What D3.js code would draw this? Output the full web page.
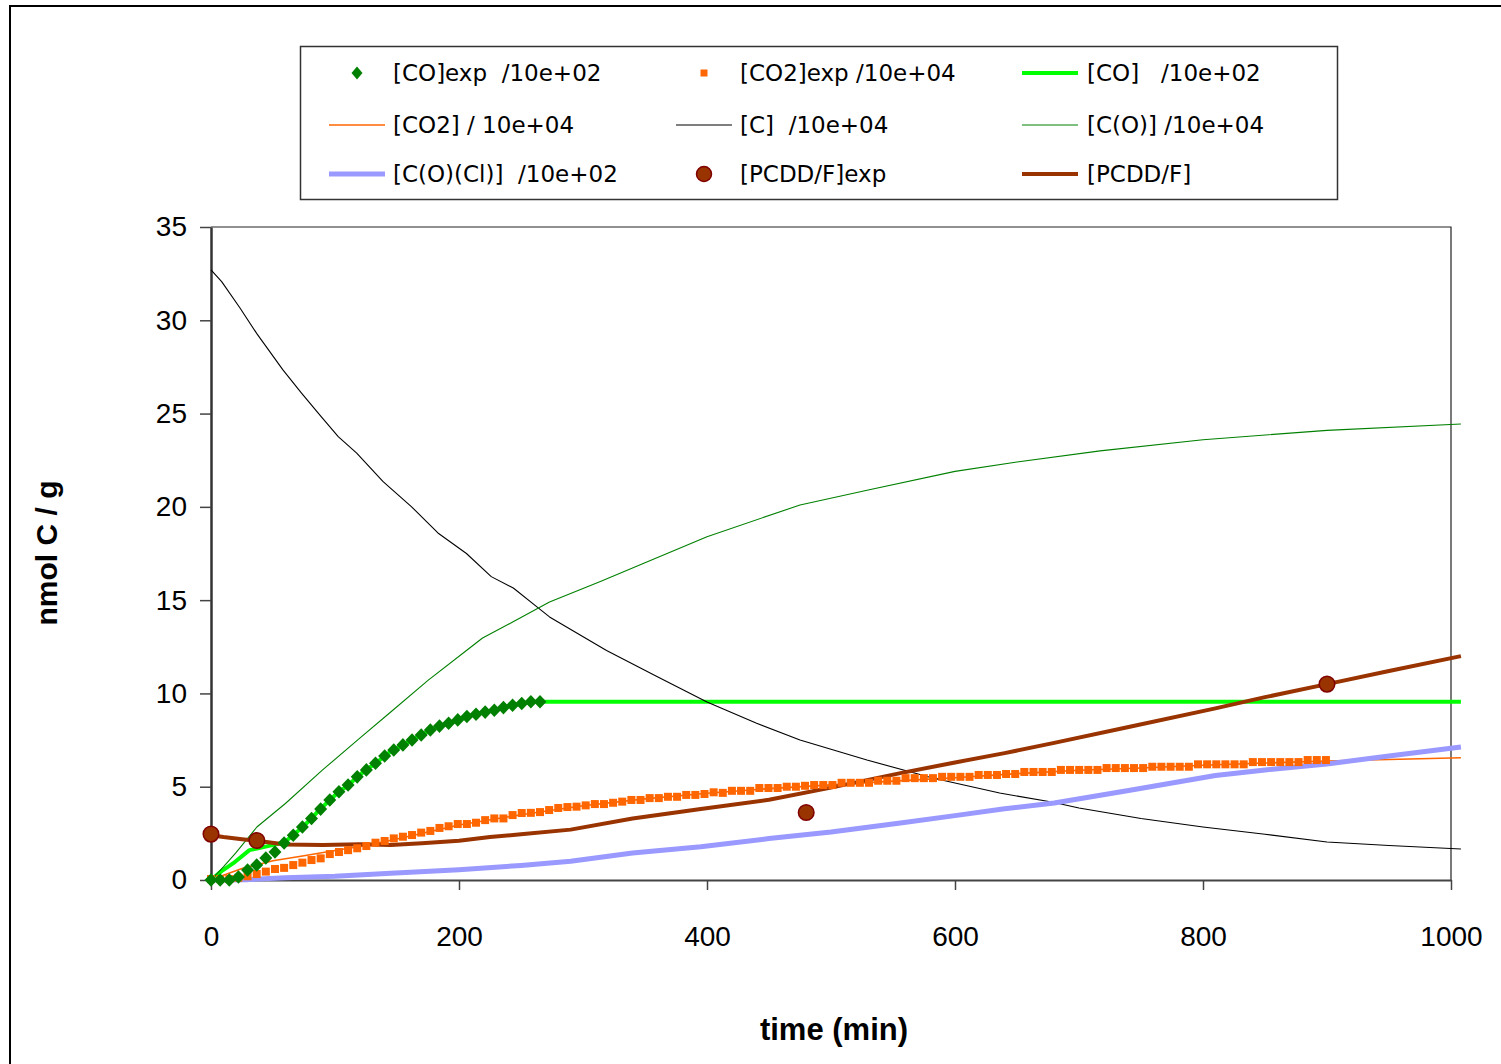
<!DOCTYPE html>
<html>
<head>
<meta charset="utf-8">
<script src="https://cdn.jsdelivr.net/npm/d3@7"></script>
<style>
  body { margin: 0; background: #fff; }
</style>
</head>
<body>
<div id="chart"></div>
<script>
// experimental samples are taken every ~7.37 min
let expStep = 7.37;

// [CO]exp /10e+02 (diamonds)
let coExp = [0, 0, 0, 0.16, 0.54, 0.8, 1.18, 1.5, 1.98, 2.4, 2.84, 3.3, 3.8, 4.29, 4.73, 5.09, 5.53, 5.9,
  6.26, 6.65, 6.97, 7.24, 7.5, 7.77, 8.04, 8.25, 8.4, 8.58, 8.76, 8.88, 9.0, 9.1, 9.24, 9.37, 9.46, 9.55, 9.55];

// [CO2]exp /10e+04 (squares)
let co2Exp = [0.05, 0.05, 0.05, 0.12, 0.2, 0.32, 0.45, 0.59, 0.65, 0.8, 0.93, 1.07, 1.16, 1.39, 1.5, 1.6, 1.7, 1.82,
  2.0, 2.09, 2.23, 2.32, 2.41, 2.54, 2.63, 2.79, 2.88, 3.0, 3.0, 3.07, 3.21, 3.3, 3.3, 3.48, 3.59, 3.6, 3.64,
  3.75, 3.86, 3.91, 3.93, 4.0, 4.07, 4.07, 4.14, 4.2, 4.29, 4.29, 4.39, 4.39, 4.46, 4.46, 4.56, 4.56, 4.61,
  4.7, 4.67, 4.78, 4.78, 4.78, 4.93, 4.93, 4.93, 5.0, 5.0, 5.05, 5.09, 5.09, 5.09, 5.21, 5.21, 5.21, 5.21,
  5.32, 5.32, 5.32, 5.46, 5.46, 5.46, 5.46, 5.53, 5.53, 5.53, 5.53, 5.63, 5.63, 5.63, 5.68, 5.68, 5.79, 5.79,
  5.79, 5.79, 5.9, 5.9, 5.9, 5.9, 5.9, 6.0, 6.0, 6.0, 6.0, 6.0, 6.07, 6.07, 6.07, 6.07, 6.07, 6.2, 6.2, 6.2,
  6.2, 6.2, 6.2, 6.32, 6.32, 6.32, 6.32, 6.32, 6.32, 6.43, 6.43, 6.43];

// [PCDD/F]exp (circles) as [time, value]
let pcddExp = [[0, 2.46], [37, 2.12], [480, 3.62], [900, 10.5]];

// model curves as [time, value]
let coModel = [[0, 0], [8, 0.45], [18, 0.9], [31, 1.6], [45, 1.8], [55, 1.95], [59, 2.0], [66, 2.4], [74, 2.84],
  [81, 3.3], [88, 3.8], [96, 4.29], [103, 4.73], [111, 5.09], [118, 5.53], [125, 5.9], [133, 6.26], [140, 6.65],
  [147, 6.97], [155, 7.24], [162, 7.5], [170, 7.77], [177, 8.04], [184, 8.25], [192, 8.4], [199, 8.58],
  [206, 8.76], [214, 8.88], [221, 9.0], [228, 9.1], [236, 9.24], [243, 9.37], [251, 9.46], [258, 9.55], [1008, 9.55]];

let co2Model = [[0, 0], [10, 0.25], [25, 0.62], [50, 1.03], [75, 1.3], [100, 1.58], [125, 1.85], [150, 2.2],
  [200, 2.95], [250, 3.5], [300, 3.98], [350, 4.35], [400, 4.65], [450, 4.9], [500, 5.1], [550, 5.3],
  [600, 5.48], [650, 5.7], [700, 5.88], [750, 6.0], [800, 6.15], [850, 6.27], [900, 6.38], [950, 6.46], [1008, 6.55]];

let cModel = [[0, 32.7], [8.6, 32.07], [23.4, 30.66], [36.8, 29.3], [58, 27.34], [73, 26.1], [88, 24.9],
  [102.6, 23.76], [117.5, 22.88], [138.8, 21.35], [161.8, 20.0], [183, 18.6], [206, 17.5], [226, 16.26],
  [243.8, 15.65], [262.6, 14.65], [273, 14.1], [319, 12.3], [360, 10.9], [400, 9.54], [440, 8.4], [475, 7.5],
  [529, 6.43], [582, 5.47], [636, 4.66], [678, 4.18], [700, 3.86], [750, 3.3], [800, 2.84], [850, 2.45],
  [900, 2.04], [950, 1.85], [1008, 1.66]];

let cOModel = [[0, 0], [10, 0.7], [20, 1.45], [37, 2.84], [60, 4.1], [90, 5.9], [120, 7.6], [144, 8.95],
  [175, 10.7], [206, 12.3], [219, 12.97], [244, 13.85], [273, 14.9], [314, 16.0], [350, 17.0], [400, 18.4],
  [475, 20.1], [530, 20.9], [600, 21.9], [650, 22.4], [717, 23.0], [800, 23.6], [900, 24.1], [1008, 24.44]];

let cOClModel = [[0, 0], [30, 0.02], [60, 0.12], [100, 0.2], [145, 0.36], [200, 0.55], [250, 0.78], [290, 1.0],
  [340, 1.45], [395, 1.78], [450, 2.22], [500, 2.57], [556, 3.05], [600, 3.45], [640, 3.82], [680, 4.13],
  [740, 4.8], [810, 5.6], [850, 5.9], [900, 6.22], [950, 6.65], [1008, 7.13]];

let pcddModel = [[0, 2.4], [10, 2.3], [25, 2.18], [40, 2.08], [60, 1.9], [90, 1.88], [120, 1.92], [145, 1.88],
  [170, 1.97], [200, 2.1], [225, 2.3], [250, 2.45], [290, 2.7], [340, 3.3], [395, 3.8], [450, 4.3], [500, 4.95],
  [556, 5.73], [600, 6.3], [640, 6.8], [680, 7.35], [740, 8.2], [810, 9.2], [850, 9.8], [900, 10.5],
  [950, 11.2], [1008, 12.0]];

let xTicks = [0, 200, 400, 600, 800, 1000];
let yTicks = [0, 5, 10, 15, 20, 25, 30, 35];

let legendLabels = ['[CO]exp  /10e+02', '[CO2]exp /10e+04', '[CO]   /10e+02',
  '[CO2] / 10e+04', '[C]  /10e+04', '[C(O)] /10e+04',
  '[C(O)(Cl)]  /10e+02', '[PCDD/F]exp', '[PCDD/F]'];

let width = 1501, height = 1064;
let plot = { left: 211, right: 1451, top: 227, bottom: 880 };

let svg = d3.select('#chart').append('svg')
  .attr('width', width)
  .attr('height', height)
  .style('display', 'block');

// outer frame (runs off the bottom/right of the picture)
svg.append('rect')
  .attr('x', 10).attr('y', 6)
  .attr('width', 1700).attr('height', 1200)
  .attr('fill', 'none').attr('stroke', '#000').attr('stroke-width', 2);

let x = d3.scaleLinear().domain([0, 1000]).range([plot.left, plot.right]);
let y = d3.scaleLinear().domain([0, 35]).range([plot.bottom, plot.top]);

// plot border top + right
svg.append('path')
  .attr('d', `M${plot.left},${plot.top}H${plot.right}V${plot.bottom}`)
  .attr('fill', 'none').attr('stroke', '#222').attr('stroke-width', 1.2);

let tickFont = '"Liberation Sans", Arial, sans-serif';

let yAxis = svg.append('g')
  .attr('transform', `translate(${plot.left},0)`)
  .call(d3.axisLeft(y).tickValues(yTicks).tickFormat(d3.format('d')).tickSize(11).tickSizeOuter(0).tickPadding(13));
yAxis.select('.domain').attr('stroke', '#333').attr('stroke-width', 2.5);
yAxis.selectAll('.tick line').attr('stroke', '#444').attr('stroke-width', 1.5);
yAxis.selectAll('text').style('font-family', tickFont).style('font-size', '28px').attr('fill', '#000');

let xAxis = svg.append('g')
  .attr('transform', `translate(0,${plot.bottom})`)
  .call(d3.axisBottom(x).tickValues(xTicks).tickFormat(d3.format('d')).tickSize(10).tickSizeOuter(0).tickPadding(36));
xAxis.select('.domain').attr('stroke', '#444').attr('stroke-width', 1.8);
xAxis.selectAll('.tick line').attr('stroke', '#444').attr('stroke-width', 1.5);
xAxis.selectAll('text').style('font-family', tickFont).style('font-size', '28px').attr('fill', '#000');

// axis titles
svg.append('text')
  .attr('x', 834).attr('y', 1040)
  .attr('text-anchor', 'middle')
  .style('font-family', tickFont).style('font-size', '31px').style('font-weight', 'bold')
  .text('time (min)');

svg.append('text')
  .attr('transform', 'translate(57,553) rotate(-90)')
  .attr('text-anchor', 'middle')
  .style('font-family', tickFont).style('font-size', '30px').style('font-weight', 'bold')
  .text('nmol C / g');

let line = d3.line().x(d => x(d[0])).y(d => y(d[1]));

function drawLine(data, color, w) {
  svg.append('path')
    .datum(data)
    .attr('d', line)
    .attr('fill', 'none')
    .attr('stroke', color)
    .attr('stroke-width', w)
    .attr('stroke-linejoin', 'round');
}

// model lines
drawLine(coModel, '#00FF00', 4);
drawLine(co2Model, '#FF6600', 1.6);
drawLine(cModel, '#000000', 1.1);
drawLine(cOModel, '#008000', 1.1);
drawLine(cOClModel, '#9999FF', 5);
drawLine(pcddModel, '#993300', 4);

// [CO2]exp squares
svg.append('g').selectAll('rect')
  .data(co2Exp)
  .enter()
  .append('rect')
  .attr('x', (d, i) => x(i * expStep) - 4)
  .attr('y', d => y(d) - 4)
  .attr('width', 8).attr('height', 8)
  .attr('fill', '#FF6600');

// [CO]exp diamonds
let diamond = 'M0,-6.8L6.5,0L0,6.8L-6.5,0Z';
svg.append('g').selectAll('path')
  .data(coExp)
  .enter()
  .append('path')
  .attr('d', diamond)
  .attr('transform', (d, i) => `translate(${x(i * expStep)},${y(d)})`)
  .attr('fill', '#008000');

// [PCDD/F]exp circles
svg.append('g').selectAll('circle')
  .data(pcddExp)
  .enter()
  .append('circle')
  .attr('cx', d => x(d[0]))
  .attr('cy', d => y(d[1]))
  .attr('r', 7.8)
  .attr('fill', '#993300')
  .attr('stroke', '#800000')
  .attr('stroke-width', 1.5);

// legend
svg.append('rect')
  .attr('x', 300.5).attr('y', 46.5)
  .attr('width', 1037).attr('height', 153)
  .attr('fill', '#fff').attr('stroke', '#333').attr('stroke-width', 1.5);

let legendStyles = [
  { kind: 'diamond', color: '#008000' },
  { kind: 'square', color: '#FF6600' },
  { kind: 'line', color: '#00FF00', w: 4 },
  { kind: 'line', color: '#FF6600', w: 1.6 },
  { kind: 'line', color: '#000000', w: 1.1 },
  { kind: 'line', color: '#008000', w: 1.1 },
  { kind: 'line', color: '#9999FF', w: 5 },
  { kind: 'circle', color: '#993300' },
  { kind: 'line', color: '#993300', w: 4 }
];
let colSym = [357, 704, 1050];
let colText = [393, 740, 1087];
let rowY = [73, 125, 174];

let items = svg.append('g').selectAll('g')
  .data(legendLabels)
  .enter()
  .append('g')
  .attr('transform', (d, i) => `translate(0,${rowY[Math.floor(i / 3)]})`);

items.each(function(d, i) {
  let g = d3.select(this);
  let s = legendStyles[i];
  let cx = colSym[i % 3];
  if (s.kind === 'line') {
    g.append('line')
      .attr('x1', cx - 28).attr('x2', cx + 28)
      .attr('stroke', s.color).attr('stroke-width', s.w);
  } else if (s.kind === 'diamond') {
    g.append('path').attr('d', 'M0,-6.5L5.5,0L0,6.5L-5.5,0Z')
      .attr('transform', `translate(${cx},0)`).attr('fill', s.color);
  } else if (s.kind === 'square') {
    g.append('rect').attr('x', cx - 3.5).attr('y', -3.5)
      .attr('width', 7).attr('height', 7).attr('fill', s.color);
  } else {
    g.append('circle').attr('cx', cx).attr('r', 7.5)
      .attr('fill', s.color).attr('stroke', '#800000').attr('stroke-width', 1.5);
  }
  g.append('text')
    .attr('x', colText[i % 3])
    .attr('dy', '0.36em')
    .style('font-family', '"DejaVu Sans", Verdana, sans-serif')
    .style('font-size', '23px')
    .style('white-space', 'pre')
    .attr('xml:space', 'preserve')
    .text(d);
});
</script>
</body>
</html>
